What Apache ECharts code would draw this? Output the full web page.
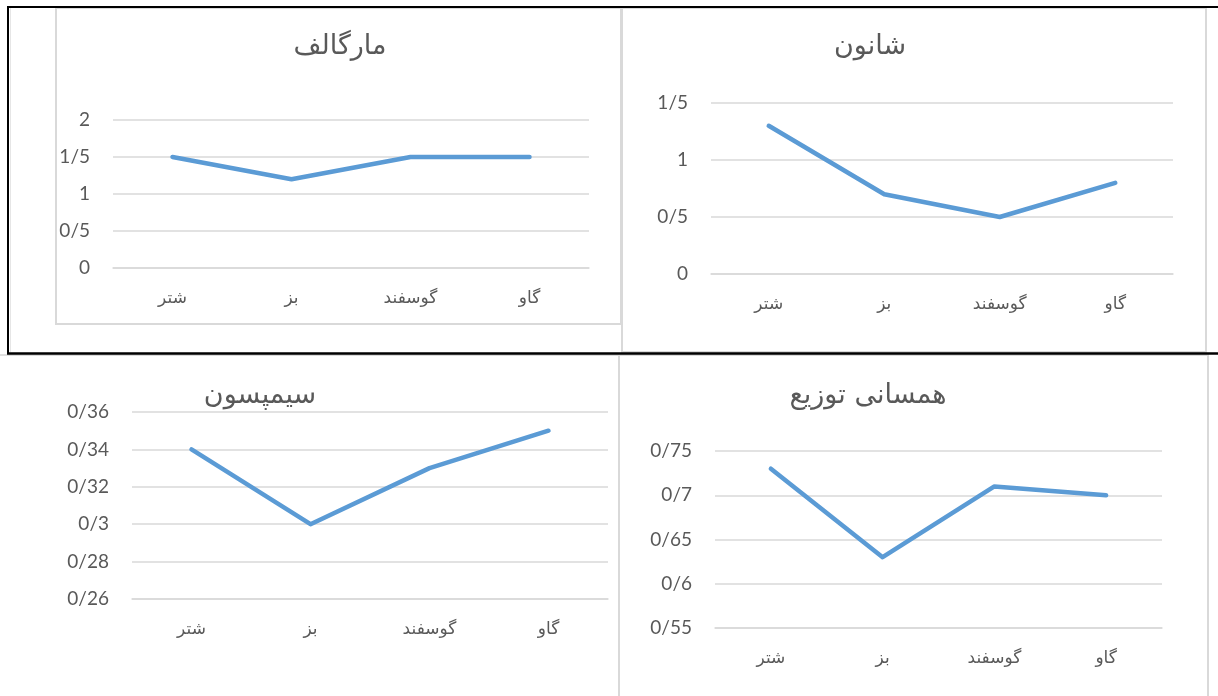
<!DOCTYPE html>
<html>
<head>
<meta charset="utf-8">
<script src="https://cdn.jsdelivr.net/npm/echarts@6/dist/echarts.min.js"></script>
<style>
html,body{margin:0;padding:0;background:#fff;}
#c{width:1218px;height:696px;}
</style>
</head>
<body>
<div id="c"></div>
<script>
// ---- data ----
var categories = ['شتر', 'بز', 'گوسفند', 'گاو'];

var margalefTitle = 'مارگالف';
var margalefValues = [1.5, 1.2, 1.5, 1.5];
var margalefTicks = ['0', '0/5', '1', '1/5', '2'];

var shannonTitle = 'شانون';
var shannonValues = [1.3, 0.7, 0.5, 0.8];
var shannonTicks = ['0', '0/5', '1', '1/5'];

var simpsonTitle = 'سیمپسون';
var simpsonValues = [0.34, 0.30, 0.33, 0.35];
var simpsonTicks = ['0/26', '0/28', '0/3', '0/32', '0/34', '0/36'];

var evennessTitle = 'همسانی توزیع';
var evennessValues = [0.73, 0.63, 0.71, 0.70];
var evennessTicks = ['0/55', '0/6', '0/65', '0/7', '0/75'];

// ---- styles ----
var TXT = '#595959';
var GRID = '#d9d9d9';
var LINE = '#5b9bd5';
var NUMFONT = "Lato, 'DejaVu Sans', sans-serif";
var FAFONT = "'DejaVu Sans', sans-serif";

var panels = [
  {title: margalefTitle, values: margalefValues, ticks: margalefTicks, min: 0, interval: 0.5,
   grid: {left: 113, top: 120, width: 476, height: 148}, tl: 340, tt: 33},
  {title: shannonTitle, values: shannonValues, ticks: shannonTicks, min: 0, interval: 0.5,
   grid: {left: 711, top: 103, width: 462, height: 171}, tl: 870, tt: 33},
  {title: simpsonTitle, values: simpsonValues, ticks: simpsonTicks, min: 0.26, interval: 0.02,
   grid: {left: 132, top: 412, width: 476, height: 187}, tl: 260, tt: 382},
  {title: evennessTitle, values: evennessValues, ticks: evennessTicks, min: 0.55, interval: 0.05,
   grid: {left: 715, top: 451, width: 447, height: 177}, tl: 868, tt: 382}
];

var option = {
  animation: false,
  backgroundColor: '#fff',
  title: [], grid: [], xAxis: [], yAxis: [], series: [],
  graphic: [
    {type: 'rect', shape: {x: 56, y: 8, width: 565, height: 316}, style: {fill: null, stroke: GRID, lineWidth: 2}, z: 1},
    {type: 'rect', shape: {x: 622, y: 8, width: 584, height: 344}, style: {fill: null, stroke: GRID, lineWidth: 2}, z: 1},
    {type: 'rect', shape: {x: -4, y: 355, width: 623, height: 400}, style: {fill: null, stroke: GRID, lineWidth: 2}, z: 1},
    {type: 'rect', shape: {x: 619, y: 355, width: 589, height: 400}, style: {fill: null, stroke: GRID, lineWidth: 2}, z: 1},
    {type: 'line', shape: {x1: 10.5, y1: 8, x2: 10.5, y2: 352}, style: {stroke: '#e6e6e6', lineWidth: 1}, z: 2},
    {type: 'line', shape: {x1: 0, y1: 355, x2: 8, y2: 355}, style: {stroke: '#e6e6e6', lineWidth: 1}, z: 2},
    {type: 'line', shape: {x1: 7, y1: 7, x2: 1218, y2: 7}, style: {stroke: '#000', lineWidth: 2}, z: 3},
    {type: 'line', shape: {x1: 8, y1: 6, x2: 8, y2: 354}, style: {stroke: '#000', lineWidth: 2}, z: 3},
    {type: 'line', shape: {x1: 7, y1: 353.5, x2: 1218, y2: 353.5}, style: {stroke: '#000', lineWidth: 2.5}, z: 3}
  ]
};

panels.forEach(function (p, i) {
  option.title.push({
    text: p.title, left: p.tl, top: p.tt, textAlign: 'center', padding: 0,
    textStyle: {color: TXT, fontSize: 27, fontWeight: 'normal', fontFamily: FAFONT}
  });
  option.grid.push(Object.assign({containLabel: false}, p.grid));
  option.xAxis.push({
    type: 'category', gridIndex: i, data: categories, boundaryGap: true,
    axisLine: {show: true, lineStyle: {color: GRID, width: 1.5}},
    axisTick: {show: false},
    axisLabel: {color: TXT, fontSize: 17, fontFamily: FAFONT, margin: 22}
  });
  var maxV = p.min + p.interval * (p.ticks.length - 1);
  option.yAxis.push({
    type: 'value', gridIndex: i, min: p.min, max: Math.round(maxV * 1000) / 1000, interval: p.interval,
    axisLine: {show: false}, axisTick: {show: false},
    splitLine: {lineStyle: {color: GRID, width: 1.5}},
    axisLabel: {
      color: TXT, fontSize: 19, fontFamily: NUMFONT, margin: 23,
      formatter: (function (ticks) { return function (v, idx) { return ticks[idx]; }; })(p.ticks)
    }
  });
  option.series.push({
    type: 'line', xAxisIndex: i, yAxisIndex: i, data: p.values,
    symbol: 'none', smooth: false,
    lineStyle: {color: LINE, width: 4.5, cap: 'round', join: 'round'}
  });
});

var chart = echarts.init(document.getElementById('c'), null, {renderer: 'canvas'});
chart.setOption(option);
</script>
</body>
</html>
